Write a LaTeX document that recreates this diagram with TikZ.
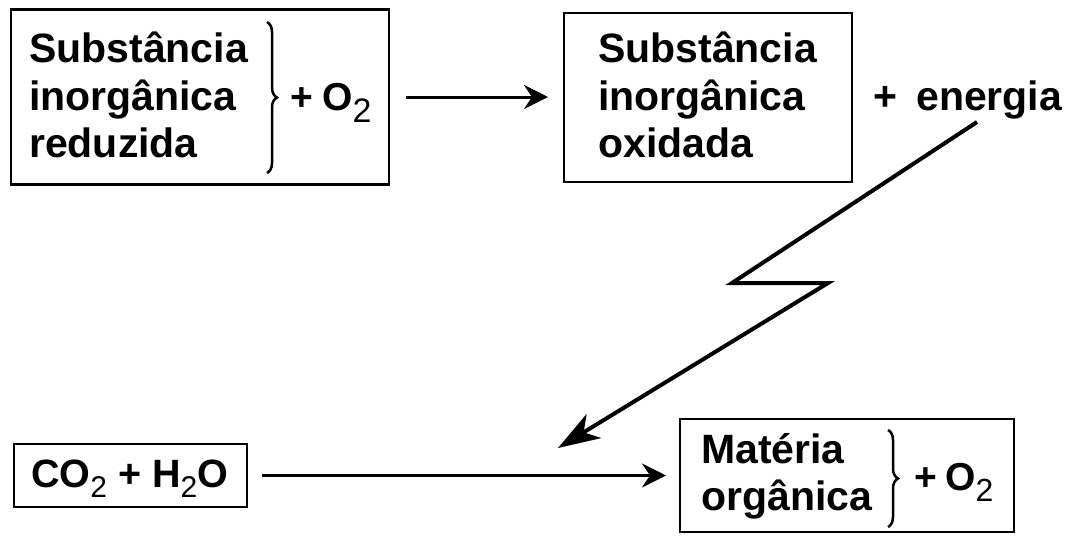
\documentclass[tikz,border=0pt]{standalone}
\usepackage{fontspec}
\setmainfont{Liberation Sans}
\usetikzlibrary{arrows.meta,decorations.pathreplacing}
\newcommand{\lowtwo}[2]{\raisebox{-#1}{\mdseries\fontsize{#2}{#2}\selectfont 2}}
\begin{document}
\begin{tikzpicture}[x=1pt,y=-1pt,
  box/.style={draw, line width=2.8pt, inner sep=0pt, outer sep=0pt, rectangle},
  big/.style={font=\fontsize{41}{47}\selectfont\bfseries, inner sep=0pt, anchor=base west},
  midtext/.style={font=\fontsize{39}{44}\selectfont\bfseries, inner sep=0pt, anchor=base west},
  arr/.style={line width=3pt, -{Stealth[length=24pt,width=24pt,inset=8pt]}},
  brc/.style={decorate, decoration={brace, amplitude=10pt}, line width=2.5pt},
  bolt/.style={line width=4pt, line join=miter, -{Stealth[length=42pt,width=28pt,inset=12pt]}}
]
\useasboundingbox (0,0) rectangle (1074,536);

% boxes
\node[box, minimum width=378pt, minimum height=175pt] (b1) at (200,97) {};
\node[box, minimum width=288pt, minimum height=169pt] (b2) at (708,97.5) {};
\node[box, minimum width=233pt, minimum height=63pt] (b3) at (130.5,475.5) {};
\node[box, minimum width=334pt, minimum height=113pt] (b4) at (847,475.5) {};

% box 1 text
\node[big] (t1a) at (29,62) {Substância};
\node[big] (t1b) at (29,110) {inorgânica};
\node[big] (t1c) at (29,157) {reduzida};
\draw[brc] (267,22) -- (267,173);
\node[midtext] (p1) at (290,110) {+};
\node[midtext] (o1) at (322,110) {O\lowtwo{12pt}{34}};

% box 2 text
\node[big] (t2a) at (598,62) {Substância};
\node[big] (t2b) at (598,110) {inorgânica};
\node[big] (t2c) at (598,157) {oxidada};
\node[big] (p2) at (873,110) {+};
\node[big] (en) at (916,110) {energia};

% box 3 text
\node[font=\fontsize{39.5}{44}\selectfont\bfseries, inner sep=0pt, anchor=base west] (t3) at (31,487)
  {CO\lowtwo{10pt}{30} + H\lowtwo{10pt}{30}O};

% box 4 text
\node[big] (t4a) at (701,463) {Matéria};
\node[big] (t4b) at (701,510) {orgânica};
\draw[brc] (888,430) -- (888,527);
\node[midtext] (p4) at (914,490) {+};
\node[midtext] (o4) at (945,490) {O\lowtwo{11pt}{32}};

% arrows
\draw[arr, shorten <=17pt, shorten >=16pt] (b1.east) -- (b1.east -| b2.west);
\draw[arr, shorten <=15pt, shorten >=14pt] (b3.east) -- (b3.east -| b4.west);

% lightning
\coordinate (l0) at (977,122);
\coordinate (l1) at (732,283);
\coordinate (l2) at (828,283);
\coordinate (l3) at (558,448);
\draw[bolt] (l0) -- (l1) -- (l2) -- (l3);
\end{tikzpicture}
\end{document}
